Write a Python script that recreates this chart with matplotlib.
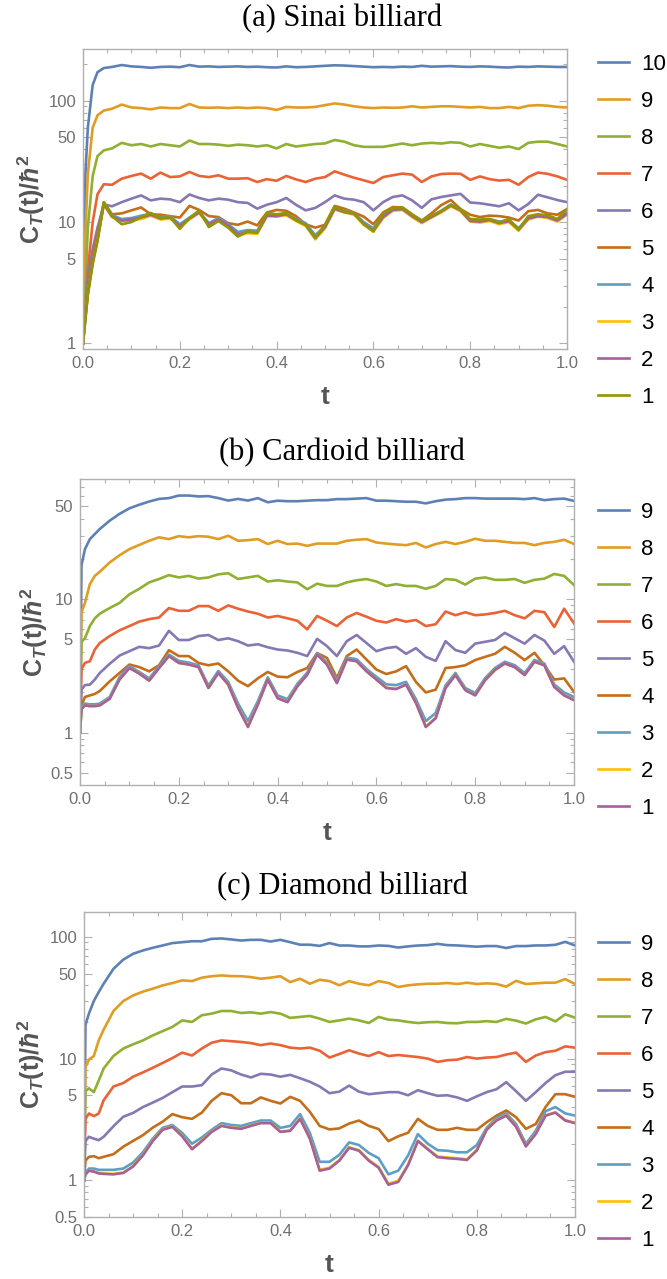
import matplotlib
matplotlib.use("Agg")
import matplotlib.pyplot as plt
from matplotlib.ticker import FixedLocator, FixedFormatter, NullFormatter

plt.rcParams['mathtext.fontset'] = 'custom'
plt.rcParams['mathtext.rm'] = 'Liberation Sans:bold'
plt.rcParams['mathtext.it'] = 'Liberation Sans:bold:italic'
plt.rcParams['mathtext.bf'] = 'Liberation Sans:bold'

# ---------------- (a) Sinai billiard ----------------
t_a = [0, 0.005, 0.01, 0.02, 0.03, 0.043, 0.06, 0.08, 0.10, 0.12, 0.14, 0.16, 0.18, 0.20,
       0.22, 0.24, 0.26, 0.28, 0.30, 0.32, 0.34, 0.36, 0.38, 0.40, 0.42, 0.44, 0.46, 0.48,
       0.50, 0.52, 0.54, 0.56, 0.58, 0.60, 0.62, 0.64, 0.66, 0.68, 0.70, 0.72, 0.74, 0.76,
       0.78, 0.80, 0.82, 0.84, 0.86, 0.88, 0.90, 0.92, 0.94, 0.96, 0.98, 1.00]
sinai_10 = [1, 25, 60, 135, 172, 186, 190, 197, 192, 190, 187, 190, 191, 189, 197, 191, 192, 190,
            191, 192, 190, 191, 189, 188, 192, 189, 190, 192, 194, 196, 195, 193, 191, 189, 190, 189,
            191, 190, 194, 191, 192, 193, 191, 190, 192, 191, 189, 188, 191, 190, 192, 191, 190, 190]
sinai_9 = [1, 8, 25, 60, 76, 83, 86, 93, 88, 87, 85, 88, 87, 87, 94, 88, 87.5, 88, 87, 88, 87, 88,
           87, 84, 89, 88, 88, 89, 92, 95, 93, 90, 88, 87, 88, 87.5, 88, 90, 88, 89, 90, 90, 89, 88,
           89, 87, 87, 89, 87, 91, 92, 91, 89, 88]
sinai_8 = [1, 3, 9, 24, 35, 39, 40.5, 45, 43, 44, 42, 44, 43, 42, 47, 44, 44, 43.5, 42.5, 43.5, 43,
           42, 43, 40.5, 44, 42, 43, 44, 44.5, 47.5, 46, 43, 41.7, 41.7, 41.7, 43, 44.4, 43, 44.4,
           45, 44.4, 45.5, 45, 42, 44, 42.5, 41, 42, 40, 45, 46, 46, 44, 42]
sinai_7 = [1, 2, 4, 10, 17, 20.5, 20.3, 22.8, 24, 25.1, 22.8, 25.6, 23.5, 23.8, 25.9, 24, 23.5,
           24.3, 22.8, 22.8, 23.0, 21.4, 22.6, 21.9, 24, 22.5, 21.4, 22.8, 23.5, 26.2, 24.6, 23.2,
           22.1, 21, 23.5, 24.3, 25.1, 24.6, 21.4, 23.8, 24.9, 25.1, 25, 22.3, 23.8, 22.6, 22,
           22.3, 20.3, 23.5, 25.6, 25, 23.8, 22.3]
sinai_6 = [1, 1.8, 3.5, 6, 9, 14.0, 13.5, 14.6, 15.6, 16.6, 15.1, 15.6, 15.4, 14.6, 16.9, 15.8,
           15.1, 15.6, 15.3, 14.6, 14.4, 12.9, 13.9, 14.6, 15.8, 13.9, 12.5, 13.1, 14.6, 16.6, 15.6,
           15.3, 14.6, 12.5, 14.6, 16.1, 16.6, 15.1, 13.1, 15.4, 16.1, 16.6, 17.1, 14.5, 14.3, 13.9,
           13.5, 14.3, 12.5, 14.1, 16.8, 16.0, 15.2, 14.6]
sinai_5 = [1, 1.8, 3, 5.2, 8, 14.6, 11.6, 11.8, 12.5, 13.2, 11.6, 11.5, 11.2, 10.9, 13.6, 12.6,
           11.2, 11.0, 9.8, 9.5, 10.1, 9.4, 12.0, 12.6, 12.4, 11.2, 9.6, 9.0, 9.5, 13.6, 12.9, 12.0,
           11.1, 9.6, 12.0, 13.3, 13.2, 11.6, 10.3, 11.8, 13.8, 15.2, 12.8, 11.5, 11.0, 11.3, 11.2,
           10.9, 10.3, 12.3, 12.6, 11.8, 11.5, 12.8]
sinai_4 = [1.0, 1.7, 2.7, 4.8, 7.4, 14.3, 11.4, 10.6, 10.8, 11.3, 11.7, 11.0, 11.2, 9.6, 10.9,
           12.2, 9.8, 10.8, 9.6, 8.3, 8.6, 8.5, 11.5, 11.4, 11.7, 10.6, 9.8, 7.8, 9.3, 13.0, 12.3,
           11.9, 10.0, 8.9, 11.3, 12.8, 13.0, 11.4, 10.3, 11.2, 12.4, 14.0, 12.7, 10.4, 10.3, 10.6,
           10.1, 10.4, 8.9, 10.9, 11.4, 11.2, 10.5, 11.9]
sinai_3 = [1.0, 1.6, 2.6, 4.6, 7.1, 13.9, 11.0, 10.2, 10.3, 10.6, 11.3, 10.5, 10.7, 9.2, 10.5,
           11.9, 9.4, 10.3, 9.2, 7.7, 8.1, 8.0, 11.2, 11.1, 11.4, 10.2, 9.3, 7.2, 8.9, 12.7, 12.0,
           11.5, 9.5, 8.3, 10.8, 12.4, 12.6, 11.0, 9.8, 10.9, 12.0, 13.5, 12.3, 10.1, 9.9, 10.2,
           9.6, 10.0, 8.5, 10.5, 11.1, 10.8, 10.1, 11.5]
sinai_2 = [1.0, 1.6, 2.6, 4.7, 7.2, 14.1, 11.1, 10.3, 10.5, 10.9, 11.5, 10.7, 10.9, 9.3, 10.7,
           12.0, 9.6, 10.5, 9.4, 7.9, 8.3, 8.2, 11.3, 11.2, 11.6, 10.4, 9.5, 7.4, 9.1, 12.9, 12.1,
           11.7, 9.7, 8.5, 11.0, 12.6, 12.8, 11.2, 10.0, 11.0, 12.2, 13.7, 12.5, 10.2, 10.1, 10.4,
           9.8, 10.2, 8.7, 10.7, 11.2, 11.0, 10.3, 11.7]
sinai_1 = [1.0, 1.6, 2.5, 4.5, 7.0, 14.5, 11.2, 9.6, 10.0, 11.0, 11.9, 10.8, 11.0, 8.8, 10.8,
           12.5, 9.1, 10.2, 9.0, 7.6, 8.4, 8.2, 11.9, 11.6, 11.9, 10.4, 9.5, 7.4, 9.5, 13.4, 12.2,
           11.8, 9.6, 8.4, 11.8, 13.0, 13.2, 11.5, 10.2, 11.3, 12.3, 13.8, 12.8, 10.6, 10.5, 10.6,
           9.9, 10.6, 8.6, 11.2, 11.6, 11.4, 10.6, 12.7]

# ---------------- (b) Cardioid / (c) Diamond share one time grid ----------------
t_bc = [0, 0.003, 0.01, 0.02, 0.03, 0.04, 0.06, 0.08, 0.10, 0.12, 0.14, 0.16, 0.18, 0.20,
        0.22, 0.24, 0.26, 0.28, 0.30, 0.32, 0.34, 0.36, 0.38, 0.40, 0.42, 0.44, 0.46, 0.48,
        0.50, 0.52, 0.54, 0.56, 0.58, 0.60, 0.62, 0.64, 0.66, 0.68, 0.70, 0.72, 0.74, 0.76,
        0.78, 0.80, 0.82, 0.84, 0.86, 0.88, 0.90, 0.92, 0.94, 0.96, 0.98, 1.00]

cardioid_9 = [1, 18, 23.8, 28.3, 30.9, 33.7, 38.9, 43.8, 48.2, 51.3, 54.2, 56.7, 57.5, 60.1, 60.1,
              59.2, 59.5, 57.5, 55.1, 56.7, 55.1, 57.5, 53.5, 55, 54.5, 54.5, 55, 55.5, 55.5, 56.5,
              56.5, 57, 57.5, 55, 55, 54.5, 54, 54, 52.5, 54.5, 56, 56.5, 57.5, 57.5, 57, 57, 57,
              57, 56.5, 57.5, 55.5, 56.5, 57, 54.8]
cardioid_8 = [1, 8, 9.4, 13.0, 15.0, 16.1, 18.9, 21.4, 23.8, 25.6, 27.5, 29.2, 28.3, 29.8, 29.2,
              29.8, 29.5, 28.3, 30.0, 27.5, 27.8, 28.3, 26.0, 27.5, 26.0, 26.2, 25.2, 26.2, 26.2,
              26.2, 27.5, 28.0, 28.3, 26.7, 26.2, 25.8, 25.5, 26.5, 24.5, 26.0, 27.0, 26.0, 27.0,
              28.5, 27.5, 27.5, 27.0, 26.5, 26.5, 25.5, 26.5, 27.0, 28.0, 26.0]
cardioid_7 = [1, 4.8, 5.1, 6.3, 7.2, 7.8, 8.6, 9.4, 10.9, 12.0, 13.4, 14.2, 15.2, 14.6, 15.0, 14.3,
              14.6, 15.4, 15.7, 14.2, 14.6, 15.0, 13.6, 13.9, 13.6, 13.4, 11.9, 13.1, 12.6, 12.6,
              13.4, 13.9, 14.2, 13.6, 12.6, 13.0, 12.6, 12.6, 12.0, 12.6, 14.2, 14.0, 12.9, 14.3,
              14.6, 14.0, 14.0, 14.2, 13.3, 14.0, 14.3, 15.5, 15.0, 12.8]
cardioid_6 = [1, 3.0, 3.33, 3.43, 4.2, 4.7, 5.3, 5.85, 6.3, 6.8, 7.1, 7.3, 8.6, 8.2, 8.2, 8.9, 8.9,
              8.2, 9.0, 8.5, 8.1, 7.8, 7.3, 7.5, 7.2, 6.9, 5.95, 7.5, 6.9, 6.3, 7.3, 7.9, 7.4, 6.9,
              6.7, 7.1, 6.8, 7.0, 6.3, 6.5, 8.1, 7.6, 8.0, 7.6, 7.7, 7.9, 8.2, 7.6, 7.2, 8.2, 8.0,
              6.2, 8.5, 6.6]
cardioid_5 = [1, 2.1, 2.27, 2.29, 2.5, 2.8, 3.28, 3.78, 4.08, 4.4, 4.3, 4.5, 5.8, 4.95, 4.95, 5.3,
              5.4, 4.95, 5.1, 4.85, 4.5, 4.6, 4.37, 4.2, 4.13, 3.97, 3.75, 5.05, 4.45, 3.75, 4.85,
              5.4, 4.7, 4.08, 4.3, 4.4, 3.9, 4.3, 3.7, 3.45, 4.85, 4.16, 3.97, 4.65, 4.8, 4.95, 5.6,
              5.1, 4.65, 5.4, 4.9, 3.9, 4.45, 3.4]
cardioid_4 = [1, 1.6, 1.85, 1.9, 1.95, 2.05, 2.42, 2.8, 3.24, 3.1, 2.88, 3.2, 4.15, 3.75, 3.75,
              3.33, 3.2, 3.3, 2.88, 2.45, 2.23, 2.55, 2.85, 2.63, 2.6, 2.85, 3.05, 3.95, 3.63, 2.57,
              3.75, 4.2, 3.53, 2.97, 2.75, 2.88, 3.15, 2.4, 2.0, 2.1, 3.05, 3.1, 3.2, 3.5, 3.7, 3.9,
              4.4, 3.97, 3.5, 3.97, 3.2, 2.5, 2.55, 2.02]
cardioid_3 = [1.0, 1.55, 1.65, 1.63, 1.63, 1.65, 1.85, 2.6, 3.15, 2.85, 2.55, 3.15, 3.85, 3.45,
              3.35, 3.2, 2.25, 2.9, 2.4, 1.65, 1.22, 1.72, 2.6, 1.9, 1.78, 2.32, 2.82, 3.95, 3.35,
              2.45, 3.65, 3.55, 3.0, 2.62, 2.3, 2.27, 2.4, 1.78, 1.22, 1.4, 2.26, 2.8, 2.16, 1.98,
              2.56, 3.05, 3.4, 3.2, 2.8, 3.5, 3.3, 2.3, 2.0, 1.85]
cardioid_2 = [1.0, 1.5, 1.6, 1.58, 1.58, 1.6, 1.8, 2.5, 3.05, 2.78, 2.46, 3.05, 3.75, 3.33, 3.25,
              3.1, 2.17, 2.8, 2.3, 1.54, 1.12, 1.63, 2.5, 1.82, 1.7, 2.23, 2.72, 3.85, 3.25, 2.36,
              3.53, 3.43, 2.89, 2.5, 2.17, 2.13, 2.3, 1.68, 1.11, 1.29, 2.17, 2.7, 2.09, 1.91, 2.48,
              2.95, 3.3, 3.1, 2.71, 3.4, 3.2, 2.21, 1.91, 1.76]
cardioid_1 = [1.0, 1.5, 1.6, 1.58, 1.58, 1.6, 1.79, 2.5, 3.05, 2.77, 2.45, 3.05, 3.75, 3.33, 3.24,
              3.1, 2.16, 2.8, 2.29, 1.53, 1.1, 1.62, 2.5, 1.81, 1.69, 2.22, 2.72, 3.85, 3.24, 2.35,
              3.53, 3.43, 2.88, 2.5, 2.16, 2.12, 2.29, 1.67, 1.1, 1.28, 2.16, 2.7, 2.08, 1.9, 2.47,
              2.95, 3.3, 3.1, 2.7, 3.4, 3.2, 2.2, 1.9, 1.75]

diamond_9 = [1, 19, 23.4, 29.7, 35.2, 41.2, 54.6, 65, 72.6, 77.3, 81.3, 84.9, 88.9, 90.4, 92, 92,
             96.3, 97, 95.2, 93.3, 94.5, 94.5, 91.6, 94.5, 90.4, 86.2, 86.2, 84.3, 88.9, 84.9, 84.9,
             83.5, 83.5, 84.9, 84.3, 81.7, 83.5, 84.9, 85.5, 87.6, 85.5, 85, 84, 83, 84, 84, 81, 84,
             84, 85, 85, 86, 91, 85]
diamond_8 = [1, 8.5, 9.8, 10.5, 14.1, 17.3, 24.6, 29.7, 33.0, 35.5, 37.5, 39.9, 41.7, 43.9, 43.3,
             46.2, 47.5, 48.2, 47.6, 47.5, 46.7, 45.3, 46.2, 47.5, 42.5, 45.3, 41.2, 44.4, 43.3,
             40.0, 43.3, 41.2, 40.0, 43.3, 41.8, 38.7, 40.0, 40.7, 41.2, 41.2, 41.8, 41, 42, 41,
             41.5, 41, 39, 43.5, 41, 41.5, 42, 42, 45, 41]
diamond_7 = [1, 5.4, 5.7, 5.3, 6.6, 8.3, 10.5, 12.1, 13.1, 14.1, 15.5, 16.8, 18.2, 20.6, 20.0,
             22.7, 23.4, 24.6, 24.6, 23.7, 24.0, 23.4, 24.1, 23.4, 21.6, 22.0, 22.4, 21.3, 20.0,
             20.6, 21.3, 20.6, 19.6, 22.0, 20.9, 20.6, 20.0, 19.6, 19.9, 20.0, 19.6, 19.5, 20, 20,
             20.3, 20, 21.2, 20.5, 19.4, 21, 22, 20.2, 23.1, 21.7]
diamond_6 = [1, 3.2, 3.54, 3.37, 3.54, 4.55, 5.9, 6.3, 7.1, 7.7, 8.4, 9.2, 10.1, 11.2, 10.6, 12.1,
             13.5, 14.1, 13.9, 13.7, 13.4, 12.9, 13.3, 12.9, 12.3, 12.1, 12.3, 11.6, 10.2, 10.9,
             11.7, 11.0, 10.5, 11.3, 10.5, 10.7, 10.5, 10.3, 10.0, 9.4, 9.7, 9.8, 10.3, 10.0, 10.2,
             10.3, 10.8, 11.2, 9.4, 10.6, 11.3, 11.6, 12.6, 12.3]
diamond_5 = [1, 2.1, 2.28, 2.2, 2.14, 2.28, 2.78, 3.33, 3.58, 4.0, 4.35, 4.75, 5.3, 5.9, 5.9, 6.05,
             7.4, 8.3, 8.0, 7.4, 7.0, 7.5, 7.4, 7.1, 7.35, 6.9, 6.45, 5.9, 5.2, 5.35, 6.0, 5.35,
             5.1, 5.2, 5.3, 5.3, 5.0, 5.5, 5.2, 4.95, 5.0, 4.8, 4.5, 4.9, 5.3, 5.6, 6.4, 5.4, 4.5,
             5.3, 6.3, 7.3, 7.8, 7.8]
diamond_4 = [1, 1.45, 1.56, 1.58, 1.52, 1.56, 1.64, 1.89, 2.11, 2.35, 2.71, 3.03, 3.5, 3.3, 3.2,
             3.6, 4.5, 5.2, 5.0, 4.3, 4.3, 4.8, 4.5, 4.28, 4.85, 4.5, 3.65, 2.8, 2.62, 2.67, 2.93,
             3.1, 2.8, 2.64, 2.1, 2.3, 2.46, 3.2, 2.8, 2.6, 2.6, 2.7, 2.6, 2.6, 3.0, 3.4, 3.75, 3.3,
             2.65, 2.9, 4.0, 5.1, 5.1, 4.85]
diamond_3 = [1.0, 1.15, 1.25, 1.25, 1.22, 1.22, 1.22, 1.25, 1.4, 1.7, 2.2, 2.7, 2.85, 2.45, 2.0,
             2.25, 2.6, 2.95, 2.85, 2.8, 2.95, 3.1, 3.1, 2.7, 2.8, 3.5, 2.45, 1.42, 1.42, 1.62,
             2.05, 1.95, 1.68, 1.52, 1.12, 1.2, 1.6, 2.4, 2.0, 1.77, 1.75, 1.7, 1.7, 1.95, 2.7,
             3.25, 3.55, 2.9, 2.0, 2.55, 3.7, 4.0, 3.55, 3.4]
diamond_2 = [1.0, 1.12, 1.2, 1.19, 1.15, 1.14, 1.13, 1.16, 1.31, 1.62, 2.12, 2.62, 2.77, 2.32,
             1.82, 2.12, 2.52, 2.82, 2.72, 2.67, 2.82, 2.97, 2.97, 2.52, 2.57, 3.22, 2.22, 1.22,
             1.27, 1.47, 1.87, 1.77, 1.47, 1.29, 0.94, 0.99, 1.35, 2.12, 1.82, 1.57, 1.54, 1.52,
             1.49, 1.78, 2.62, 3.12, 3.42, 2.77, 1.92, 2.42, 3.42, 3.62, 3.12, 2.97]
diamond_1 = [1.0, 1.12, 1.2, 1.18, 1.14, 1.13, 1.12, 1.15, 1.3, 1.6, 2.1, 2.6, 2.75, 2.3, 1.8,
             2.1, 2.5, 2.8, 2.7, 2.65, 2.8, 2.95, 2.95, 2.5, 2.55, 3.2, 2.2, 1.2, 1.25, 1.45, 1.85,
             1.75, 1.45, 1.27, 0.92, 0.97, 1.33, 2.1, 1.8, 1.55, 1.52, 1.5, 1.47, 1.76, 2.6, 3.1,
             3.4, 2.75, 1.9, 2.4, 3.4, 3.6, 3.1, 2.95]

# Mathematica default plot colours, in drawing order
palette = ['#5E81B5', '#E19C24', '#8FB032', '#EB6235', '#8778B3',
           '#C56E1A', '#5D9EC7', '#FFBF00', '#A5609D', '#929600']

W, H = 667, 1279
fig = plt.figure(figsize=(W / 100, H / 100), dpi=100)

frame_col = '#b0b0b0'
tick_lab_col = '#707070'
label_col = '#555555'


def px_rect(left, right, top, bottom):
    return [left / W, 1 - bottom / H, (right - left) / W, (bottom - top) / H]


def setup_axes(ax, ylim, yticks, yminor):
    ax.set_yscale('log')
    ax.set_xlim(0, 1)
    ax.set_ylim(*ylim)
    ax.xaxis.set_major_locator(FixedLocator([0, 0.2, 0.4, 0.6, 0.8, 1.0]))
    ax.xaxis.set_major_formatter(FixedFormatter(['0.0', '0.2', '0.4', '0.6', '0.8', '1.0']))
    ax.xaxis.set_minor_locator(FixedLocator([i * 0.05 for i in range(21)]))
    ax.yaxis.set_major_locator(FixedLocator(yticks))
    ax.yaxis.set_major_formatter(FixedFormatter([('%g' % v) for v in yticks]))
    ax.yaxis.set_minor_locator(FixedLocator(yminor))
    ax.yaxis.set_minor_formatter(NullFormatter())
    ax.tick_params(which='both', direction='in', top=True, right=True,
                   color=frame_col, width=0.8)
    ax.tick_params(which='major', length=5.5, labelsize=12, labelcolor=tick_lab_col, pad=5)
    ax.tick_params(which='minor', length=3)
    for lab in ax.get_xticklabels() + ax.get_yticklabels():
        lab.set_fontfamily('Liberation Sans')
    for s in ax.spines.values():
        s.set_color(frame_col)
        s.set_linewidth(1.0)
    ax.set_xlabel('t', fontsize=19, fontweight='bold', color=label_col,
                  fontfamily='Liberation Sans')
    ax.set_ylabel(r'$\mathrm{C}_{T}\mathrm{(t)/}\hbar^{2}$', fontsize=18, color=label_col)
    ax.xaxis.label.set_va('center')
    ax.yaxis.label.set_va('center')


def draw_panel(rect, title, title_y, t, series, labels, ylim, yticks, yminor,
               leg_top, xlab_y, ylab_x):
    ax = fig.add_axes(px_rect(*rect))
    for k, (vals, lab) in enumerate(zip(series, labels)):
        ax.plot(t, vals, color=palette[k], lw=1.9, label=lab, solid_joinstyle='round')
    setup_axes(ax, ylim, yticks, yminor)
    left, right, top, bottom = rect
    ax.xaxis.set_label_coords(0.5, -(xlab_y - bottom) / (bottom - top))
    ax.yaxis.set_label_coords((ylab_x - left) / (right - left), 0.5)
    fig.text(342 / W, 1 - title_y / H, title, ha='center', va='center', fontsize=22,
             fontfamily='Liberation Serif')
    ax.legend(loc='upper left', bbox_to_anchor=(598 / W, 1 - leg_top / H),
              bbox_transform=fig.transFigure, frameon=False,
              handlelength=1.4, handletextpad=0.55, labelspacing=0.72,
              borderpad=0, borderaxespad=0,
              prop={'family': 'Liberation Sans', 'size': 16})
    return ax


minor_ab = [2, 3, 4, 6, 7, 8, 9, 20, 30, 40, 60, 70, 80, 90, 200]

draw_panel((83, 567, 49, 349), '(a) Sinai billiard', 19, t_a,
           [sinai_10, sinai_9, sinai_8, sinai_7, sinai_6,
            sinai_5, sinai_4, sinai_3, sinai_2, sinai_1],
           ['10', '9', '8', '7', '6', '5', '4', '3', '2', '1'],
           (0.90, 267), [1, 5, 10, 50, 100], minor_ab, 54, 397, 31)

draw_panel((80, 574, 479, 785), '(b) Cardioid billiard', 453, t_bc,
           [cardioid_9, cardioid_8, cardioid_7, cardioid_6, cardioid_5,
            cardioid_4, cardioid_3, cardioid_2, cardioid_1],
           ['9', '8', '7', '6', '5', '4', '3', '2', '1'],
           (0.404, 80), [0.5, 1, 5, 10, 50], [0.6, 0.7, 0.8, 0.9] + minor_ab[:14], 502, 833, 34)

draw_panel((84, 575, 912, 1217), '(c) Diamond billiard', 887, t_bc,
           [diamond_9, diamond_8, diamond_7, diamond_6, diamond_5,
            diamond_4, diamond_3, diamond_2, diamond_1],
           ['9', '8', '7', '6', '5', '4', '3', '2', '1'],
           (0.5, 160), [0.5, 1, 5, 10, 50, 100], [0.6, 0.7, 0.8, 0.9] + minor_ab[:14], 934, 1265, 31)

fig.savefig('out.png', dpi=100)
